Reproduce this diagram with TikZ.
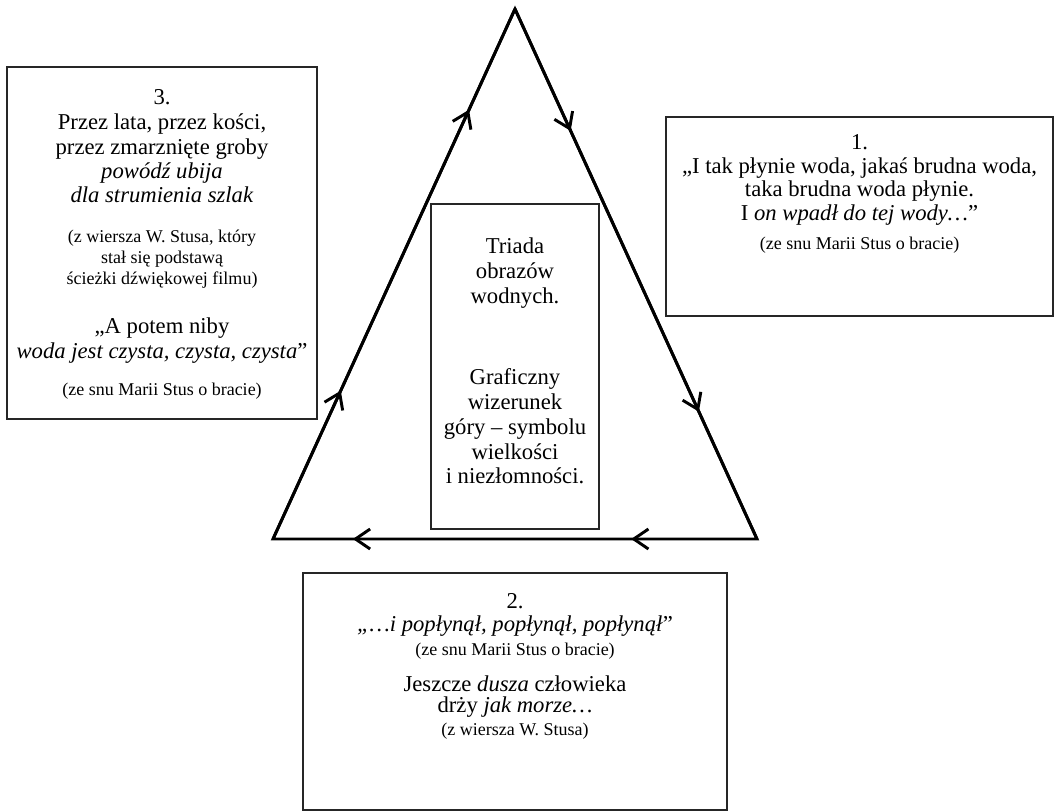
\documentclass[tikz,border=0pt]{standalone}
\usepackage{fontspec}
\setmainfont{Liberation Serif}
\usetikzlibrary{arrows.meta,decorations.markings}
\begin{document}
\begin{tikzpicture}[x=0.75pt,y=-0.75pt,
  big/.style={inner sep=0pt,anchor=base,font=\fontsize{17}{20}\selectfont},
  sml/.style={inner sep=0pt,anchor=base,font=\fontsize{13.5}{16}\selectfont},
  frame/.style={draw=black!85,line width=1.1pt,inner sep=0pt},
  tri/.style={line width=2.2pt,line join=miter},
  barb/.style={Straight Barb[length=11pt,width=15pt]},
  twomarks/.style 2 args={line width=2.2pt,postaction={decorate},
    decoration={markings,
      mark=at position #1 with {\arrow{Straight Barb[length=11pt,width=15pt]}},
      mark=at position #2 with {\arrow{Straight Barb[length=11pt,width=15pt]}}}}
]
\useasboundingbox (0,0) rectangle (1060,811);
\fill[white] (0,0) rectangle (1060,811);

% triangle
\coordinate (A) at (515,9);
\coordinate (BR) at (757,539);
\coordinate (BL) at (273,539);
\draw[tri] (A) -- (BR) -- (BL) -- cycle;
\draw[twomarks={0.23}{0.76}] (A) -- (BR);
\draw[twomarks={0.26}{0.835}] (BR) -- (BL);
\draw[twomarks={0.28}{0.81}] (BL) -- (A);

% boxes
\node[frame,minimum width=232.5pt,minimum height=264pt] (lbox) at (162,243) {};
\node[frame,minimum width=290.25pt,minimum height=149.25pt] (rbox) at (859.5,216.5) {};
\node[frame,minimum width=318pt,minimum height=177.75pt] (bbox) at (515,691.5) {};
\node[frame,minimum width=126pt,minimum height=243.75pt] (cbox) at (515,366.5) {};

% left box text
\node[big] (l1) at (162,104) {3.};
\node[big] (l2) at (162,129) {Przez lata, przez kości,};
\node[big] (l3) at (162,154) {przez zmarznięte groby};
\node[big] (l4) at (162,178) {\textit{powódź ubija}};
\node[big] (l5) at (162,202) {\textit{dla strumienia szlak}};
\node[sml] (l6) at (162,242) {(z wiersza W. Stusa, który};
\node[sml] (l7) at (162,263) {stał się podstawą};
\node[sml] (l8) at (162,284) {ścieżki dźwiękowej filmu)};
\node[big] (l9) at (162,333) {„A potem niby};
\node[big] (l10) at (162,358) {\textit{woda jest czysta, czysta, czysta}”};
\node[sml] (l11) at (162,395) {(ze snu Marii Stus o bracie)};

% right box text
\node[big] (r1) at (859.5,149) {1.};
\node[big] (r2) at (859.5,173) {„I tak płynie woda, jakaś brudna woda,};
\node[big] (r3) at (859.5,196) {taka brudna woda płynie.};
\node[big] (r4) at (859.5,220) {I \textit{on wpadł do tej wody…}”};
\node[sml] (r5) at (859.5,249) {(ze snu Marii Stus o bracie)};

% centre box text
\node[big] (c1) at (515,253) {Triada};
\node[big] (c2) at (515,278) {obrazów};
\node[big] (c3) at (515,303) {wodnych.};
\node[big] (c4) at (515,384) {Graficzny};
\node[big] (c5) at (515,409) {wizerunek};
\node[big] (c6) at (515,434) {góry – symbolu};
\node[big] (c7) at (515,459) {wielkości};
\node[big] (c8) at (515,483) {i niezłomności.};

% bottom box text
\node[big] (b1) at (515,608) {2.};
\node[big] (b2) at (515,631) {\textit{„…i popłynął, popłynął, popłynął}”};
\node[sml] (b3) at (515,655) {(ze snu Marii Stus o bracie)};
\node[big] (b4) at (515,691) {Jeszcze \textit{dusza} człowieka};
\node[big] (b5) at (515,712) {drży \textit{jak morze…}};
\node[sml] (b6) at (515,735) {(z wiersza W. Stusa)};
\end{tikzpicture}
\end{document}
